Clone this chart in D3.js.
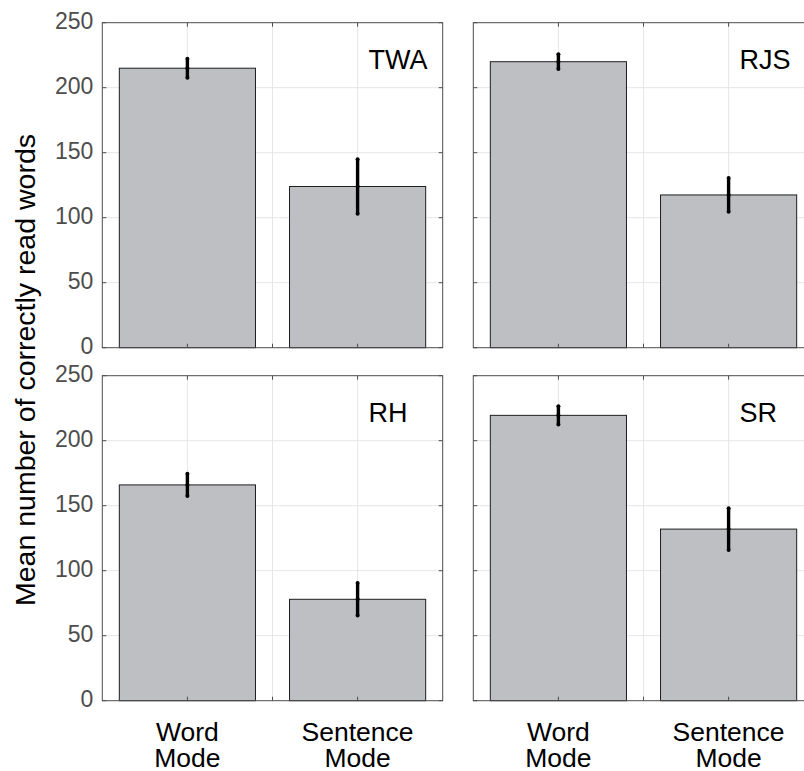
<!DOCTYPE html>
<html>
<head>
<meta charset="utf-8">
<script src="https://cdn.jsdelivr.net/npm/d3@7"></script>
<style>
  body { margin: 0; background: #fff; }
  svg { display: block; font-family: "Liberation Sans", Arial, sans-serif; }
</style>
</head>
<body>
<div id="chart"></div>
<script>
// data
const subjects = ['TWA', 'RJS', 'RH', 'SR'];
const modeLabels = [['Word', 'Mode'], ['Sentence', 'Mode']];
const wordMeans = [215, 220, 166, 219.5];
const wordErrors = [7.3, 5.7, 8.5, 7];
const sentenceMeans = [124, 117.5, 78, 132];
const sentenceErrors = [21, 13, 12.5, 16];
const yTicks = [0, 50, 100, 150, 200, 250];
const xGridTicks = [1, 1.5, 2];

const width = 804, height = 771;
const panelW = 340.4, panelH = 325;
const panelLeft = [102.3, 473.3];
const panelTop = [22.7, 375.7];

const svg = d3.select('#chart').append('svg')
  .attr('width', width)
  .attr('height', height);

const axisGray = '#4d4d4d';

subjects.forEach((name, i) => {
  const col = i % 2, row = Math.floor(i / 2);
  const g = svg.append('g')
    .attr('transform', `translate(${panelLeft[col]},${panelTop[row]})`);

  const x = d3.scaleLinear().domain([0.5, 2.5]).range([0, panelW]);
  const y = d3.scaleLinear().domain([0, 250]).range([panelH, 0]);

  const bars = [
    { pos: 1, mean: wordMeans[i], err: wordErrors[i] },
    { pos: 2, mean: sentenceMeans[i], err: sentenceErrors[i] }
  ];

  // grid
  g.append('g').selectAll('line.h').data(yTicks.slice(1, -1)).enter()
    .append('line')
    .attr('x1', 0).attr('x2', panelW)
    .attr('y1', d => y(d)).attr('y2', d => y(d))
    .attr('stroke', '#e6e6e6').attr('stroke-width', 1);
  g.append('g').selectAll('line.v').data(xGridTicks).enter()
    .append('line')
    .attr('x1', d => x(d)).attr('x2', d => x(d))
    .attr('y1', 0).attr('y2', panelH)
    .attr('stroke', '#e6e6e6').attr('stroke-width', 1);

  // bars
  const barW = x(1.4) - x(0.6);
  g.selectAll('rect.bar').data(bars).enter()
    .append('rect')
    .attr('class', 'bar')
    .attr('x', d => x(d.pos) - barW / 2)
    .attr('y', d => y(d.mean))
    .attr('width', barW)
    .attr('height', d => y(0) - y(d.mean))
    .attr('fill', '#bebfc3')
    .attr('stroke', '#1e1e1e')
    .attr('stroke-width', 1);

  // error bars
  const eb = g.selectAll('g.err').data(bars).enter().append('g');
  eb.append('line')
    .attr('x1', d => x(d.pos)).attr('x2', d => x(d.pos))
    .attr('y1', d => y(d.mean + d.err)).attr('y2', d => y(d.mean - d.err))
    .attr('stroke', '#000').attr('stroke-width', 3.4);
  eb.selectAll('circle')
    .data(d => [d.mean - d.err, d.mean, d.mean + d.err].map(v => ({ pos: d.pos, v })))
    .enter().append('circle')
    .attr('cx', d => x(d.pos))
    .attr('cy', d => y(d.v))
    .attr('r', 2)
    .attr('fill', '#000');

  // box and inward ticks
  g.append('rect')
    .attr('x', 0).attr('y', 0)
    .attr('width', panelW).attr('height', panelH)
    .attr('fill', 'none')
    .attr('stroke', axisGray).attr('stroke-width', 1);

  const tickLen = 4;
  yTicks.forEach(t => {
    g.append('line').attr('x1', 0).attr('x2', tickLen)
      .attr('y1', y(t)).attr('y2', y(t)).attr('stroke', axisGray);
    g.append('line').attr('x1', panelW - tickLen).attr('x2', panelW)
      .attr('y1', y(t)).attr('y2', y(t)).attr('stroke', axisGray);
  });
  xGridTicks.forEach(t => {
    g.append('line').attr('x1', x(t)).attr('x2', x(t))
      .attr('y1', panelH).attr('y2', panelH - tickLen).attr('stroke', axisGray);
    g.append('line').attr('x1', x(t)).attr('x2', x(t))
      .attr('y1', 0).attr('y2', tickLen).attr('stroke', axisGray);
  });

  // y tick labels on left panels only
  if (col === 0) {
    g.selectAll('text.ytick').data(yTicks).enter()
      .append('text')
      .attr('x', -9)
      .attr('y', d => y(d))
      .attr('dy', '0.26em')
      .attr('text-anchor', 'end')
      .attr('font-size', 23)
      .attr('fill', axisGray)
      .text(d => d);
  }

  // category labels under bottom panels
  if (row === 1) {
    bars.forEach((b, k) => {
      const t = g.append('text')
        .attr('text-anchor', 'middle')
        .attr('font-size', 26.5)
        .attr('fill', '#000');
      modeLabels[k].forEach((line, j) => {
        t.append('tspan')
          .attr('x', x(b.pos))
          .attr('y', panelH + 40 + j * 26.5)
          .text(line);
      });
    });
  }

  // subject name
  g.append('text')
    .attr('x', x(2.064))
    .attr('y', y(214))
    .attr('font-size', 27)
    .attr('fill', '#000')
    .text(name);
});

// y axis label
svg.append('text')
  .attr('transform', `translate(35,370) rotate(-90)`)
  .attr('text-anchor', 'middle')
  .attr('font-size', 28.5)
  .attr('fill', '#000')
  .text('Mean number of correctly read words');
</script>
</body>
</html>
